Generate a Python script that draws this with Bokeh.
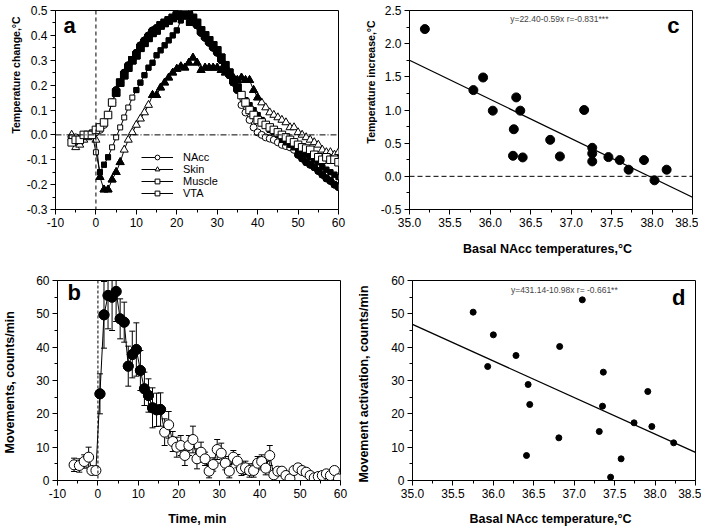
from bokeh.plotting import figure
from bokeh.models import Range1d, FixedTicker, Label, Span, Legend, LegendItem, Title
from bokeh.layouts import column, row
from bokeh.embed import file_html
from bokeh.resources import INLINE

FONT = "Liberation Sans"

# ---------------- Panel a : temperature change ----------------
time_a = [-6, -5, -4, -3, -2, -1, 0, 1, 2, 3, 4, 5, 6, 7, 8, 9, 10, 11, 12, 13, 14, 15,
          16, 17, 18, 19, 20, 21, 22, 23, 24, 25, 26, 27, 28, 29, 30, 31, 32, 33, 34, 35,
          36, 37, 38, 39, 40, 41, 42, 43, 44, 45, 46, 47, 48, 49, 50, 51, 52, 53, 54, 55,
          56, 57, 58, 59, 60]
nacc = [-0.02, -0.01, -0.03, -0.01, 0.00, 0.00, 0.01,
        0.02, 0.04, 0.08, 0.13, 0.18, 0.21, 0.25, 0.28, 0.30,
        0.33, 0.36, 0.38, 0.40, 0.42, 0.43, 0.44, 0.45, 0.46, 0.47,
        0.48, 0.49, 0.50, 0.49, 0.47, 0.44, 0.41, 0.39, 0.37, 0.35,
        0.33, 0.30, 0.27, 0.24, 0.21, 0.18, 0.12, 0.09, 0.06, 0.03,
        0.01, 0.00, -0.01, -0.015, -0.02, -0.03, -0.04, -0.045, -0.05, -0.06,
        -0.08, -0.095, -0.11, -0.12, -0.13, -0.145, -0.16, -0.175, -0.185, -0.20, -0.21]
skin = [0.00, -0.05, -0.04, -0.02, -0.01, 0.00, -0.02,
        -0.17, -0.22, -0.22, -0.18, -0.15, -0.11, -0.06, -0.02, 0.01,
        0.04, 0.065, 0.09, 0.12, 0.16, 0.16, 0.19, 0.21, 0.23, 0.25,
        0.265, 0.275, 0.27, 0.29, 0.31, 0.29, 0.26, 0.27, 0.27, 0.27,
        0.27, 0.26, 0.25, 0.25, 0.23, 0.22, 0.23, 0.22, 0.22, 0.18,
        0.15, 0.13, 0.11, 0.09, 0.08, 0.07, 0.06, 0.05, 0.03, 0.03,
        0.01, 0.00, -0.01, -0.02, -0.03, -0.04, -0.06, -0.07, -0.07, -0.08, -0.07]
muscle = [-0.01, -0.02, -0.02, 0.00, 0.00, 0.01, -0.07,
          -0.15, -0.12, -0.09, -0.05, -0.01, 0.03, 0.07, 0.11, 0.15,
          0.18, 0.21, 0.24, 0.27, 0.29, 0.32, 0.34, 0.36, 0.38, 0.40,
          0.42, 0.46, 0.49, 0.45, 0.45, 0.44, 0.42, 0.40, 0.38, 0.36,
          0.33, 0.30, 0.27, 0.24, 0.21, 0.19, 0.16, 0.14, 0.12, 0.10,
          0.08, 0.06, 0.04, 0.02, 0.01, 0.00, -0.02, -0.03, -0.04, -0.05,
          -0.06, -0.07, -0.08, -0.09, -0.10, -0.11, -0.13, -0.14, -0.15, -0.16, -0.17]
vta = [-0.03, -0.02, -0.02, 0.00, 0.00, 0.00, 0.02,
       0.03, 0.05, 0.08, 0.13, 0.17, 0.21, 0.24, 0.27, 0.30,
       0.32, 0.35, 0.37, 0.39, 0.41, 0.42, 0.44, 0.45, 0.46, 0.47,
       0.48, 0.48, 0.49, 0.48, 0.47, 0.45, 0.42, 0.40, 0.38, 0.36,
       0.34, 0.31, 0.28, 0.25, 0.22, 0.19, 0.16, 0.13, 0.10, 0.08,
       0.06, 0.05, 0.04, 0.03, 0.02, 0.01, 0.00, -0.01, -0.02, -0.03,
       -0.04, -0.05, -0.055, -0.06, -0.08, -0.09, -0.10, -0.09, -0.10, -0.10, -0.11]
# intervals (min) where the symbols are filled (significant)
nacc_filled = [(4, 35), (50, 60)]
skin_filled = [(1, 6), (14, 40)]
muscle_filled = [(1, 3), (10, 60)]
vta_filled = [(5, 35)]
a_xticks = [-10, 0, 10, 20, 30, 40, 50, 60]
a_xlabels = ["-10", "0", "10", "20", "30", "40", "50", "60"]
a_yticks = [-0.3, -0.2, -0.1, 0.0, 0.1, 0.2, 0.3, 0.4, 0.5]
a_ylabels = ["-0.3", "-0.2", "-0.1", "0.0", "0.1", "0.2", "0.3", "0.4", "0.5"]

# ---------------- Panel b : movements ----------------
time_b = [-5.9, -4.6, -3.4, -2.3, -1.5, -0.5,
          0.5, 1.5, 2.5, 3.5, 4.5, 5.5, 6.5, 7.5, 8.5, 9.5, 10.5, 11.5, 12.5, 13.5, 14.5, 15.5,
          16.5, 17.5, 18.5, 19.5, 20.5, 21.5, 22.5, 23.5, 24.5, 25.5, 26.5, 27.5, 28.5, 29.5,
          30.5, 31.5, 32.5, 33.5, 34.5, 35.5, 36.5, 37.5, 38.5, 39.5, 40.5, 41.5, 42.5, 43.5,
          44.5, 45.5, 46.5, 47.5, 48.5, 49.5, 50.5, 51.5, 52.5, 53.5, 54.5, 55.5, 56.5, 57.5,
          58.5, 59.5]
movements = [4.7, 4.5, 5.7, 7.0, 3.0, 3.0,
             26.0, 49.7, 55.5, 55.0, 56.7, 48.5, 47.5, 34.3, 37.8, 39.3, 33.0, 27.5, 25.5, 21.8, 21.2, 21.3,
             14.5, 16.7, 11.7, 10.0, 10.5, 7.5, 10.5, 12.3, 6.5, 8.5, 6.5, 2.8, 4.8, 9.3,
             8.2, 5.2, 2.8, 7.0, 5.8, 3.5, 3.8, 3.0, 3.0, 5.2, 5.7, 3.7, 7.5, 1.7,
             2.8, 2.8, 1.5, 0.5, 3.0, 3.8, 3.0, 2.5, 1.5, 0.8, 1.2, 1.5, 2.0, 1.5,
             3.0, 0.5]
movements_sem = [2, 2, 2, 3, 1, 1,
                 6, 10, 10, 10, 9, 6, 6, 6, 7, 8, 6, 5, 5, 6, 5, 5,
                 4, 4, 3, 3, 3, 3, 3, 4, 3, 3, 2, 2, 2, 3,
                 3, 2, 2, 2, 2, 2, 2, 2, 2, 2, 2, 2, 3, 1,
                 1, 1, 1, 1, 1, 1, 1, 1, 1, 1, 1, 1, 1, 1,
                 1, 1]
b_filled = [(0, 16)]
b_yticks = [0, 10, 20, 30, 40, 50, 60]
b_ylabels = ["0", "10", "20", "30", "40", "50", "60"]

# ---------------- Panel c : temperature increase vs basal ----------------
basal_c = [35.19, 35.79, 35.91, 36.03, 36.28, 36.29, 36.32, 36.37, 36.40, 36.74, 36.86,
           37.16, 37.26, 37.26, 37.26, 37.46, 37.60, 37.71, 37.90, 38.03, 38.18]
increase_c = [2.22, 1.30, 1.49, 0.99, 0.31, 0.71, 1.19, 0.99, 0.285, 0.55, 0.30,
              1.00, 0.43, 0.345, 0.225, 0.29, 0.245, 0.10, 0.245, -0.06, 0.10]
fit_c = (22.40, -0.59)
c_xticks = [35.0, 35.5, 36.0, 36.5, 37.0, 37.5, 38.0, 38.5]
c_xlabels = ["35.0", "35.5", "36.0", "36.5", "37.0", "37.5", "38.0", "38.5"]
c_yticks = [-0.5, 0.0, 0.5, 1.0, 1.5, 2.0, 2.5]
c_ylabels = ["-0.5", "0.0", "0.5", "1.0", "1.5", "2.0", "2.5"]

# ---------------- Panel d : movement activation vs basal ----------------
basal_d = [35.75, 35.93, 36.00, 36.28, 36.41, 36.43, 36.45, 36.81, 36.82, 37.10,
           37.31, 37.35, 37.36, 37.45, 37.58, 37.74, 37.91, 37.96, 38.23]
activation_d = [50.5, 34.2, 43.7, 37.5, 7.5, 28.8, 22.8, 12.8, 40.2, 54.2,
                14.7, 22.3, 32.5, 1.0, 6.5, 17.3, 26.7, 16.2, 11.3]
fit_d = (431.14, -10.98)

FW = 283
FH_TOP = 199
FH_BOT = 200


def make_fig(xr, yr, fh, left, right, top, bottom):
    p = figure(frame_width=FW, frame_height=fh,
               x_range=Range1d(*xr), y_range=Range1d(*yr),
               output_backend="svg", toolbar_location=None,
               min_border_left=left, min_border_right=right,
               min_border_top=top, min_border_bottom=bottom,
               background_fill_color="white", border_fill_color="white")
    p.xgrid.visible = False
    p.ygrid.visible = False
    p.outline_line_color = "black"
    p.outline_line_width = 1
    p.outline_line_alpha = 1
    for ax in (p.xaxis[0], p.yaxis[0]):
        ax.axis_line_color = "black"
        ax.major_tick_line_color = "black"
        ax.minor_tick_line_color = "black"
        ax.major_tick_out = 5
        ax.major_tick_in = 0
        ax.minor_tick_out = 3
        ax.minor_tick_in = 0
        ax.major_label_text_font = FONT
        ax.major_label_text_font_size = "12px"
        ax.major_label_text_color = "black"
        ax.major_label_standoff = 3
        ax.axis_label_text_font = FONT
        ax.axis_label_text_font_style = "bold"
        ax.axis_label_text_font_size = "12.5px"
        ax.axis_label_text_color = "black"
    return p


def set_ticks(axis, ticks, labels, minor):
    axis.ticker = FixedTicker(ticks=ticks, minor_ticks=minor)
    axis.major_label_overrides = {t: l for t, l in zip(ticks, labels)}


def filled_mask(times, intervals):
    return [any(a <= t <= b for a, b in intervals) for t in times]


def subset(xs, ys, mask):
    return [x for x, m in zip(xs, mask) if m], [y for y, m in zip(ys, mask) if m]


def letter(p, txt, x, y, align):
    p.add_layout(Label(x=x, y=y, x_units="screen", y_units="screen", text=txt,
                       text_font=FONT, text_font_style="bold", text_font_size="22px",
                       text_align=align, text_baseline="top", text_color="black"))


def side_title(p, txt, offset, standoff):
    p.add_layout(Title(text=txt, align="right", offset=offset, standoff=standoff,
                       text_font=FONT, text_font_style="bold", text_font_size="10.5px",
                       text_color="black"), "left")


# ---------- figure a ----------
pa = make_fig((-10, 60), (-0.3, 0.5), FH_TOP, 55, 14, 10, 65)
set_ticks(pa.xaxis[0], a_xticks, a_xlabels, [-5, 5, 15, 25, 35, 45, 55])
set_ticks(pa.yaxis[0], a_yticks, a_ylabels, [-0.25, -0.15, -0.05, 0.05, 0.15, 0.25, 0.35, 0.45])
pa.add_layout(Span(location=0, dimension="height", line_color="black", line_dash="4 3", line_width=1))
pa.add_layout(Span(location=0, dimension="width", line_color="black", line_dash="6 2 1 2", line_width=1))
items = []
series = [("NAcc", nacc, nacc_filled, "circle", 7),
          ("Skin", skin, skin_filled, "triangle", 8),
          ("Muscle", muscle, muscle_filled, "square", 5),
          ("VTA", vta, vta_filled, "square", 7.5)]
for name, vals, filled, marker, size in series:
    lr = pa.line(time_a, vals, line_color="black", line_width=1)
    orr = pa.scatter(time_a, vals, marker=marker, size=size, fill_color="white",
                     line_color="black", line_width=1)
    fx_, fy_ = subset(time_a, vals, filled_mask(time_a, filled))
    pa.scatter(fx_, fy_, marker=marker, size=size, fill_color="black", line_color="black", line_width=1)
    items.append(LegendItem(label=name, renderers=[lr, orr]))
leg = Legend(items=items, location=(86, 10), glyph_width=32, glyph_height=12,
             label_height=12, spacing=0, padding=0, margin=0, label_standoff=10,
             label_text_font=FONT, label_text_font_size="11px", label_text_color="black",
             border_line_color=None, background_fill_alpha=0)
pa.add_layout(leg)
side_title(pa, "Temperature  change,°C", 3, 4)
letter(pa, "a", 8, FH_TOP - 2, "left")

# ---------- figure c ----------
pc = make_fig((35.0, 38.5), (-0.5, 2.5), FH_TOP, 57, 6, 10, 65)
set_ticks(pc.xaxis[0], c_xticks, c_xlabels, [35.25, 35.75, 36.25, 36.75, 37.25, 37.75, 38.25])
set_ticks(pc.yaxis[0], c_yticks, c_ylabels, [-0.25, 0.25, 0.75, 1.25, 1.75, 2.25])
pc.xaxis[0].axis_label = "Basal  NAcc  temperatures,°C"
pc.xaxis[0].axis_label_standoff = 12
pc.add_layout(Span(location=0, dimension="width", line_color="black", line_dash="5 3", line_width=1))
fx = [c_xticks[0], c_xticks[-1]]
pc.line(fx, [fit_c[0] + fit_c[1] * x for x in fx], line_color="black", line_width=1.3)
pc.scatter(basal_c, increase_c, marker="circle", size=9, fill_color="black", line_color="black")
side_title(pc, "Temperature  increase,°C", 7, 1)
pc.add_layout(Label(x=151, y=FH_TOP - 3, x_units="screen", y_units="screen",
                    text="y=22.40-0.59x  r=-0.831***", text_align="center", text_baseline="top",
                    text_font=FONT, text_font_size="8.5px"))
letter(pc, "c", FW - 13, FH_TOP - 2, "right")

# ---------- figure b ----------
pb = make_fig((-10, 60), (0, 60), FH_BOT, 55, 14, 6, 43)
set_ticks(pb.xaxis[0], a_xticks, a_xlabels, [-5, 5, 15, 25, 35, 45, 55])
set_ticks(pb.yaxis[0], b_yticks, b_ylabels, [5, 15, 25, 35, 45, 55])
pb.xaxis[0].axis_label = "Time,  min"
pb.xaxis[0].axis_label_standoff = 11
pb.yaxis[0].axis_label = "Movements,  counts/min"
pb.yaxis[0].axis_label_standoff = 16
pb.add_layout(Span(location=0, dimension="height", line_color="black", line_dash="3 2", line_width=1))
pb.line(time_b, movements, line_color="black", line_width=1)
up = [v + e for v, e in zip(movements, movements_sem)]
lo = [v - e for v, e in zip(movements, movements_sem)]
pb.segment(time_b, lo, time_b, up, line_color="black", line_width=1)
pb.scatter(time_b, up, marker="dash", size=6, line_color="black", line_width=1)
pb.scatter(time_b, lo, marker="dash", size=6, line_color="black", line_width=1)
pb.scatter(time_b, movements, marker="circle", size=10, fill_color="white", line_color="black", line_width=1)
bx, by = subset(time_b, movements, filled_mask(time_b, b_filled))
pb.scatter(bx, by, marker="circle", size=10, fill_color="black", line_color="black", line_width=1)
letter(pb, "b", 10, FH_BOT + 1, "left")

# ---------- figure d ----------
pd_ = make_fig((35.0, 38.5), (0, 60), FH_BOT, 57, 6, 6, 43)
set_ticks(pd_.xaxis[0], c_xticks, c_xlabels, [35.25, 35.75, 36.25, 36.75, 37.25, 37.75, 38.25])
set_ticks(pd_.yaxis[0], b_yticks, b_ylabels, [5, 15, 25, 35, 45, 55])
pd_.xaxis[0].axis_label = "Basal  NAcc  temperature,°C"
pd_.xaxis[0].axis_label_standoff = 11
pd_.yaxis[0].axis_label = "Movement  activation,  counts/min"
pd_.yaxis[0].axis_label_standoff = 17
pd_.line(fx, [fit_d[0] + fit_d[1] * x for x in fx], line_color="black", line_width=1.3)
pd_.scatter(basal_d, activation_d, marker="circle", size=6, fill_color="black", line_color="black")
pd_.add_layout(Label(x=153, y=FH_BOT - 4, x_units="screen", y_units="screen",
                     text="y=431.14-10.98x  r= -0.661**", text_align="center", text_baseline="top",
                     text_font=FONT, text_font_size="8.5px"))
letter(pd_, "d", FW - 10, FH_BOT - 4, "right")

layout = column(row(pa, pc), row(pb, pd_))
with open("out.html", "w") as f:
    f.write(file_html(layout, INLINE))
